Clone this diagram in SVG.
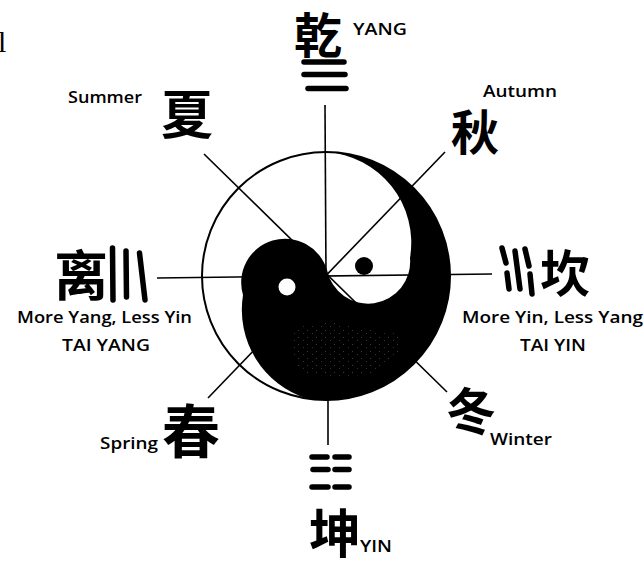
<svg xmlns="http://www.w3.org/2000/svg" width="644" height="563" viewBox="0 0 644 563">
<defs>
<style>
.lbl{font-family:"Open Sans","Liberation Sans",sans-serif;font-size:16px;fill:#000;font-weight:600}
.cjk{font-family:"Noto Sans CJK SC","Noto Sans CJK JP",sans-serif;font-weight:700;fill:#000;text-anchor:middle}
.ln{stroke:#000;stroke-width:1.6;fill:none;stroke-linecap:butt}
.bar{stroke:#000;stroke-width:5.5;stroke-linecap:round;fill:none}
</style>
<pattern id="speck" width="9" height="7" patternUnits="userSpaceOnUse">
<rect x="1" y="1" width="1" height="1" fill="#777"/>
<rect x="6" y="4" width="1" height="1" fill="#666"/>
</pattern>
</defs>
<rect width="644" height="563" fill="#fff"/>
<text x="-2" y="52" font-family="Liberation Serif,serif" font-size="30">l</text>

<g id="connectors">
<line class="ln" x1="325" y1="105" x2="326" y2="276"/>
<line class="ln" x1="328" y1="398" x2="328" y2="445"/>
<line class="ln" x1="157" y1="278" x2="492" y2="274"/>
<line class="ln" x1="204" y1="154" x2="447" y2="392"/>
<line class="ln" x1="445" y1="152" x2="208" y2="398"/>
</g>

<g id="taiji">
<circle cx="326" cy="276" r="124" fill="none" stroke="#000" stroke-width="2"/>
<path d="M326,152 A91 91 0 0 1 410,258 A42 42 0 0 1 327,270 A43 43 0 0 0 243,295 A93 93 0 0 0 307,398.5 A124 124 0 0 0 450,276 A124 124 0 0 0 326,152 Z" fill="#000"/>
<path d="M292,328 L330,322 L372,330 L402,334 L398,356 L380,372 L340,378 L300,372 L290,350 Z" fill="url(#speck)" opacity="0.5"/>
<circle cx="287" cy="287" r="8.5" fill="#fff"/>
<circle cx="364" cy="266" r="9" fill="#000"/>
</g>

<g id="qian">
<text class="cjk" x="318" y="53" font-size="48">乾</text>
<line class="bar" x1="304" y1="62" x2="344" y2="62"/>
<line class="bar" x1="304" y1="74.5" x2="345" y2="74.5"/>
<line class="bar" x1="308" y1="88.5" x2="346" y2="88.5"/>
<text class="lbl" x="353" y="35" textLength="54" lengthAdjust="spacingAndGlyphs">YANG</text>
</g>

<g id="summer">
<text class="lbl" x="68" y="103" textLength="74" lengthAdjust="spacingAndGlyphs">Summer</text>
<text class="cjk" x="187" y="134" font-size="52">夏</text>
</g>

<g id="autumn">
<text class="lbl" x="483" y="97" textLength="74" lengthAdjust="spacingAndGlyphs">Autumn</text>
<text class="cjk" x="475" y="150" font-size="48">秋</text>
</g>

<g id="li">
<text class="cjk" x="81" y="296" font-size="54">离</text>
<line class="bar" x1="112.5" y1="248" x2="113" y2="300"/>
<line class="bar" x1="126" y1="251" x2="126.5" y2="297"/>
<line class="bar" x1="139.5" y1="253" x2="145" y2="300"/>
<text class="lbl" x="17" y="323" textLength="175" lengthAdjust="spacingAndGlyphs">More Yang, Less Yin</text>
<text class="lbl" x="62" y="351" textLength="88" lengthAdjust="spacingAndGlyphs">TAI YANG</text>
</g>

<g id="kan">
<line class="bar" x1="502" y1="248" x2="506" y2="263"/>
<line class="bar" x1="507" y1="273" x2="509" y2="289"/>
<line class="bar" x1="515" y1="251" x2="520" y2="289"/>
<line class="bar" x1="525" y1="249" x2="529" y2="266"/>
<line class="bar" x1="530" y1="274" x2="532" y2="294"/>
<text class="cjk" x="565" y="292" font-size="50">坎</text>
<text class="lbl" x="462" y="323" textLength="181" lengthAdjust="spacingAndGlyphs">More Yin, Less Yang</text>
<text class="lbl" x="520" y="351" textLength="66" lengthAdjust="spacingAndGlyphs">TAI YIN</text>
</g>

<g id="spring">
<text class="lbl" x="100" y="449" textLength="58" lengthAdjust="spacingAndGlyphs">Spring</text>
<text class="cjk" x="191" y="453" font-size="58">春</text>
</g>

<g id="winter">
<text class="cjk" x="471" y="430" font-size="50">冬</text>
<text class="lbl" x="490" y="445" textLength="62" lengthAdjust="spacingAndGlyphs">Winter</text>
</g>

<g id="kun">
<line class="bar" x1="312" y1="457" x2="327" y2="457"/>
<line class="bar" x1="335" y1="457" x2="349" y2="457"/>
<line class="bar" x1="313" y1="469.5" x2="328" y2="469.5"/>
<line class="bar" x1="335" y1="469.5" x2="349" y2="469.5"/>
<line class="bar" x1="312" y1="487" x2="328" y2="487"/>
<line class="bar" x1="335" y1="487" x2="349" y2="487"/>
<text class="cjk" x="335" y="553" font-size="52">坤</text>
<text class="lbl" x="360" y="552" textLength="32" lengthAdjust="spacingAndGlyphs">YIN</text>
</g>
</svg>
